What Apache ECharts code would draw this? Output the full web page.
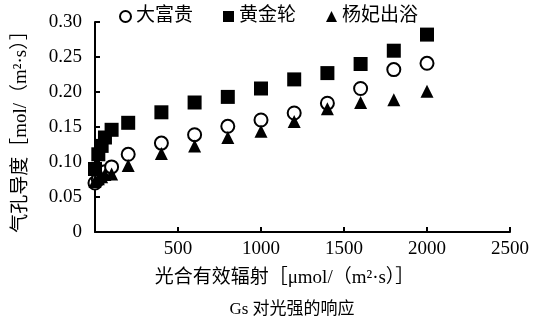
<!DOCTYPE html>
<html>
<head>
<meta charset="utf-8">
<script src="https://cdn.jsdelivr.net/npm/echarts@6/dist/echarts.min.js"></script>
<style>
  html, body { margin: 0; padding: 0; background: #fff; }
  #chart { width: 534px; height: 322px; }
</style>
</head>
<body>
<div id="chart"></div>
<script>
// Photosynthetically active radiation, µmol/(m²·s)
const par = [0, 20, 40, 60, 100, 200, 400, 600, 800, 1000, 1200, 1400, 1600, 1800, 2000];
// Stomatal conductance, mol/(m²·s), per cultivar
const dafugui     = [0.070, 0.075, 0.080, 0.086, 0.093, 0.111, 0.127, 0.139, 0.151, 0.160, 0.170, 0.184, 0.205, 0.232, 0.241];
const huangjinlun = [0.090, 0.111, 0.123, 0.135, 0.146, 0.156, 0.171, 0.185, 0.193, 0.205, 0.218, 0.227, 0.240, 0.259, 0.282];
const yangfei     = [0.072, 0.076, 0.079, 0.082, 0.083, 0.095, 0.112, 0.123, 0.135, 0.144, 0.158, 0.176, 0.185, 0.189, 0.201];
const seriesNames = ['大富贵', '黄金轮', '杨妃出浴'];
const xTicks = [0, 500, 1000, 1500, 2000, 2500];
const yTicks = [0, 0.05, 0.10, 0.15, 0.20, 0.25, 0.30];

const FONT = "'Liberation Serif', 'Times New Roman', 'Noto Sans CJK SC', serif";
const pairs = ys => par.map((x, i) => [x, ys[i]]);

const chart = echarts.init(document.getElementById('chart'), null, { renderer: 'canvas' });
chart.setOption({
  animation: false,
  backgroundColor: '#fff',
  textStyle: { fontFamily: FONT, color: '#000' },
  title: {
    text: 'Gs 对光强的响应',
    left: 287, top: 296, textAlign: 'center',
    textStyle: { fontFamily: FONT, fontSize: 17, fontWeight: 'normal', color: '#000' }
  },
  legend: {
    left: 119, top: 7, padding: 0,
    itemGap: 30, itemWidth: 11, itemHeight: 11,
    textStyle: { fontFamily: FONT, fontSize: 19, color: '#000' },
    data: seriesNames
  },
  grid: { left: 95, right: 24, top: 22, bottom: 90 },
  xAxis: {
    type: 'value',
    min: xTicks[0], max: xTicks[xTicks.length - 1], interval: 500,
    name: '光合有效辐射［μmol/（m²·s）］',
    nameLocation: 'middle', nameGap: 37,
    nameTextStyle: { fontFamily: FONT, fontSize: 19, color: '#000', padding: [0, 36, 0, 0] },
    axisLine: { lineStyle: { color: '#000', width: 2 } },
    axisTick: { inside: true, length: 5, lineStyle: { color: '#000', width: 2 } },
    axisLabel: {
      showMinLabel: false, fontFamily: FONT, fontSize: 19, color: '#000', margin: 8,
      formatter: v => String(v)
    },
    splitLine: { show: false }
  },
  yAxis: {
    type: 'value',
    min: yTicks[0], max: yTicks[yTicks.length - 1], interval: 0.05,
    name: '气孔导度［mol/（m²·s）］',
    nameLocation: 'middle', nameGap: 64, nameRotate: 90,
    nameTextStyle: { fontFamily: FONT, fontSize: 19, color: '#000' },
    axisLine: { show: true, lineStyle: { color: '#000', width: 2 } },
    axisTick: { show: true, inside: true, length: 5, lineStyle: { color: '#000', width: 2 } },
    axisLabel: {
      fontFamily: FONT, fontSize: 19, color: '#000', margin: 13,
      formatter: v => (v === 0 ? '0' : v.toFixed(2))
    },
    splitLine: { show: false }
  },
  series: [
    {
      name: seriesNames[0], type: 'scatter', data: pairs(dafugui),
      symbol: 'emptyCircle', symbolSize: 13,
      itemStyle: { color: '#000', borderColor: '#000', borderWidth: 2, opacity: 1 }
    },
    {
      name: seriesNames[1], type: 'scatter', data: pairs(huangjinlun),
      symbol: 'rect', symbolSize: 14,
      itemStyle: { color: '#000', opacity: 1 }
    },
    {
      name: seriesNames[2], type: 'scatter', data: pairs(yangfei),
      symbol: 'triangle', symbolSize: 13,
      itemStyle: { color: '#000', opacity: 1 }
    }
  ]
});
</script>
</body>
</html>
